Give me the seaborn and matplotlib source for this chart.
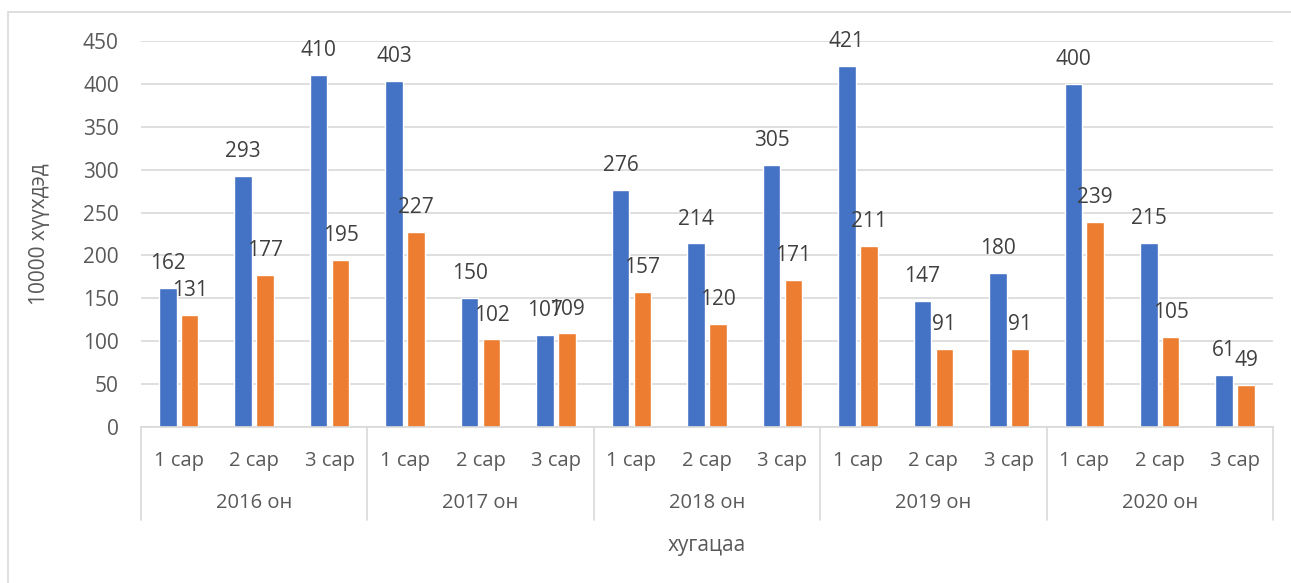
import matplotlib
matplotlib.use("Agg")
import matplotlib.pyplot as plt
import matplotlib.transforms as mtransforms
from matplotlib.patches import Rectangle
import pandas as pd
import seaborn as sns

years = ["2016 он", "2017 он", "2018 он", "2019 он", "2020 он"]
months = ["1 сар", "2 сар", "3 сар"]
series_names = ["Цуврал 1", "Цуврал 2"]
series_a = [162, 293, 410, 403, 150, 107, 276, 214, 305, 421, 147, 180, 400, 215, 61]
series_b = [131, 177, 195, 227, 102, 109, 157, 120, 171, 211, 91, 91, 239, 105, 49]
y_ticks = [0, 50, 100, 150, 200, 250, 300, 350, 400, 450]
y_label = "10000 хүүхдэд"
x_label = "хугацаа"

periods = [f"{y} {m}" for y in years for m in months]
df = pd.DataFrame({
    "period": periods * 2,
    "value": series_a + series_b,
    "series": [series_names[0]] * len(periods) + [series_names[1]] * len(periods),
})

sns.set_theme(style="white")
plt.rcParams["font.family"] = ["Open Sans", "DejaVu Sans"]

TICK_C = "#595959"
LABEL_C = "#404040"
GRID_C = "#D9D9D9"

fig = plt.figure(figsize=(12.91, 5.83), dpi=100)

# light frame around the chart
fig.patches.append(Rectangle((8 / 1291, -0.1), 1.2, 1.1 - 12 / 583,
                             transform=fig.transFigure, fill=False,
                             edgecolor=GRID_C, linewidth=1.2))

ax = fig.add_axes([0.1092, 0.2676, 0.8768, 0.6621])
sns.barplot(data=df, x="period", y="value", hue="series", order=periods,
            palette=["#4472C4", "#ED7D31"], saturation=1, width=0.58, gap=0.2,
            legend=False, ax=ax)

ax.set_xlim(-0.5, len(periods) - 0.5)
ax.set_ylim(0, 450)
ax.set_yticks(y_ticks)
ax.set_yticklabels([str(t) for t in y_ticks])
ax.yaxis.grid(True, color=GRID_C, linewidth=1.2)
ax.set_axisbelow(True)
for s in ["left", "top", "right"]:
    ax.spines[s].set_visible(False)
ax.spines["bottom"].set_color(GRID_C)
ax.spines["bottom"].set_linewidth(1.2)

ax.tick_params(axis="y", length=0, pad=16, labelsize=15, labelcolor=TICK_C)
ax.tick_params(axis="x", length=0, pad=17, labelsize=14.5, labelcolor=TICK_C)
ax.set_xticks(range(len(periods)))
ax.set_xticklabels(months * len(years))

for cont in ax.containers:
    vals = [int(round(b.get_height())) for b in cont]
    ax.bar_label(cont, labels=[str(v) for v in vals], padding=10,
                 fontsize=15, color=LABEL_C)

trans = mtransforms.blended_transform_factory(ax.transData, ax.transAxes)
for i in range(len(years) + 1):
    b = 3 * i - 0.5
    ax.plot([b, b], [0, -0.241], transform=trans, color=GRID_C,
            linewidth=1.2, clip_on=False)
for i, yr in enumerate(years):
    ax.text(3 * i + 1, -0.197, yr, transform=trans, ha="center", va="center",
            fontsize=14.5, color=TICK_C)

ax.set_xlabel("")
ax.set_ylabel("")
ax.text(0.5, -0.306, x_label, transform=ax.transAxes, ha="center",
        va="center", fontsize=15, color=TICK_C)
fig.text(40 / 1291, 1 - 234 / 583, y_label, rotation=90, ha="center",
         va="center", fontsize=15, color=TICK_C)

fig.savefig("out.png", dpi=100)
